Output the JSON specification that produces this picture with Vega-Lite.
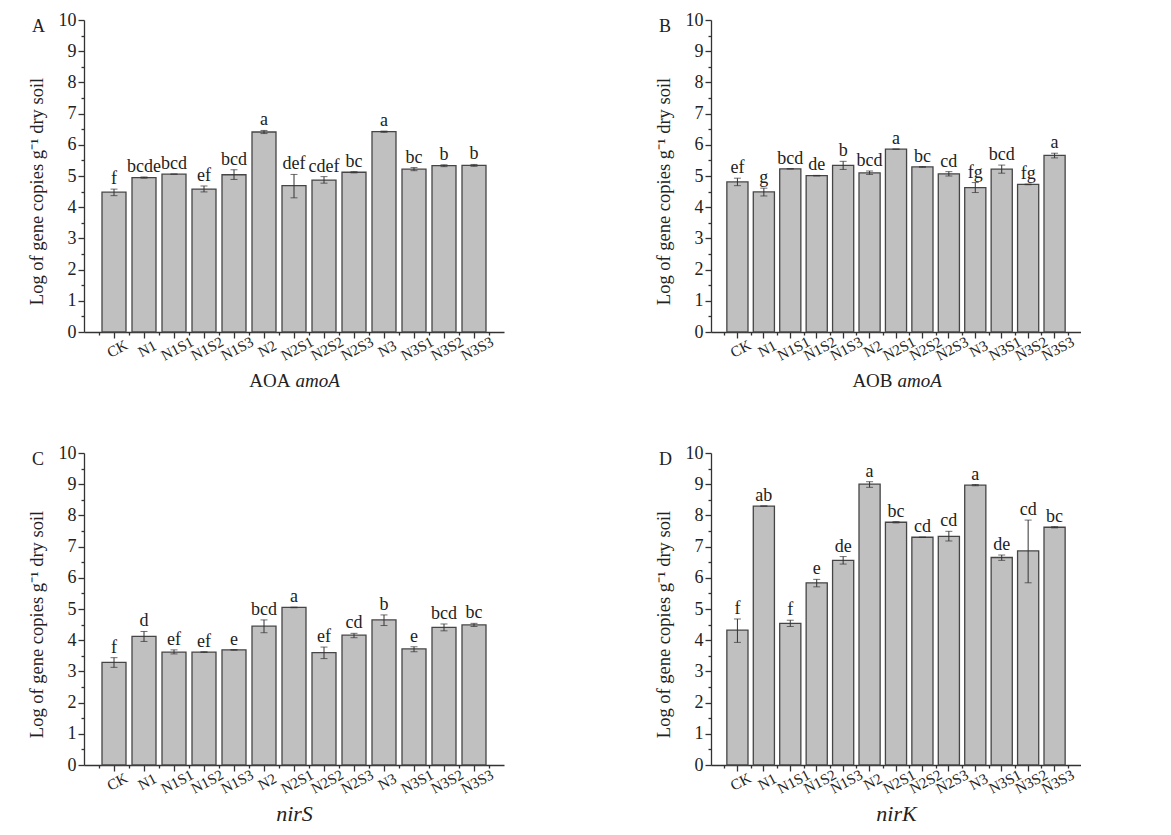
{
  "$schema": "https://vega.github.io/schema/vega-lite/v6.json",
  "padding": {"left": 27, "top": 11, "right": 0, "bottom": 0},
  "background": "white",
  "datasets": {
    "A": [
      {"g": "CK", "mean": 4.48, "lo": 4.37, "hi": 4.58, "sig": "f"},
      {"g": "N1", "mean": 4.95, "lo": 4.93, "hi": 4.97, "sig": "bcde"},
      {"g": "N1S1", "mean": 5.06, "lo": 5.06, "hi": 5.06, "sig": "bcd"},
      {"g": "N1S2", "mean": 4.58, "lo": 4.49, "hi": 4.68, "sig": "ef"},
      {"g": "N1S3", "mean": 5.04, "lo": 4.89, "hi": 5.2, "sig": "bcd"},
      {"g": "N2", "mean": 6.41, "lo": 6.36, "hi": 6.46, "sig": "a"},
      {"g": "N2S1", "mean": 4.69, "lo": 4.3, "hi": 5.05, "sig": "def"},
      {"g": "N2S2", "mean": 4.87, "lo": 4.77, "hi": 4.98, "sig": "cdef"},
      {"g": "N2S3", "mean": 5.12, "lo": 5.1, "hi": 5.14, "sig": "bc"},
      {"g": "N3", "mean": 6.42, "lo": 6.4, "hi": 6.44, "sig": "a"},
      {"g": "N3S1", "mean": 5.22, "lo": 5.17, "hi": 5.27, "sig": "bc"},
      {"g": "N3S2", "mean": 5.33, "lo": 5.3, "hi": 5.36, "sig": "b"},
      {"g": "N3S3", "mean": 5.34, "lo": 5.31, "hi": 5.37, "sig": "b"}
    ],
    "B": [
      {"g": "CK", "mean": 4.81, "lo": 4.69, "hi": 4.93, "sig": "ef"},
      {"g": "N1", "mean": 4.49, "lo": 4.36, "hi": 4.61, "sig": "g"},
      {"g": "N1S1", "mean": 5.23, "lo": 5.23, "hi": 5.23, "sig": "bcd"},
      {"g": "N1S2", "mean": 5.01, "lo": 5.0, "hi": 5.02, "sig": "de"},
      {"g": "N1S3", "mean": 5.34, "lo": 5.21, "hi": 5.47, "sig": "b"},
      {"g": "N2", "mean": 5.1, "lo": 5.05, "hi": 5.16, "sig": "bcd"},
      {"g": "N2S1", "mean": 5.86, "lo": 5.86, "hi": 5.86, "sig": "a"},
      {"g": "N2S2", "mean": 5.29, "lo": 5.28, "hi": 5.3, "sig": "bc"},
      {"g": "N2S3", "mean": 5.07, "lo": 5.0, "hi": 5.14, "sig": "cd"},
      {"g": "N3", "mean": 4.63, "lo": 4.47, "hi": 4.79, "sig": "fg"},
      {"g": "N3S1", "mean": 5.22, "lo": 5.09, "hi": 5.35, "sig": "bcd"},
      {"g": "N3S2", "mean": 4.73, "lo": 4.72, "hi": 4.74, "sig": "fg"},
      {"g": "N3S3", "mean": 5.66, "lo": 5.58, "hi": 5.73, "sig": "a"}
    ],
    "C": [
      {"g": "CK", "mean": 3.29, "lo": 3.13, "hi": 3.44, "sig": "f"},
      {"g": "N1", "mean": 4.12, "lo": 3.96, "hi": 4.28, "sig": "d"},
      {"g": "N1S1", "mean": 3.62, "lo": 3.56, "hi": 3.69, "sig": "ef"},
      {"g": "N1S2", "mean": 3.62, "lo": 3.61, "hi": 3.63, "sig": "ef"},
      {"g": "N1S3", "mean": 3.69, "lo": 3.68, "hi": 3.7, "sig": "e"},
      {"g": "N2", "mean": 4.45, "lo": 4.24, "hi": 4.65, "sig": "bcd"},
      {"g": "N2S1", "mean": 5.05, "lo": 5.04, "hi": 5.06, "sig": "a"},
      {"g": "N2S2", "mean": 3.6, "lo": 3.41, "hi": 3.78, "sig": "ef"},
      {"g": "N2S3", "mean": 4.16, "lo": 4.08, "hi": 4.22, "sig": "cd"},
      {"g": "N3", "mean": 4.65, "lo": 4.47, "hi": 4.81, "sig": "b"},
      {"g": "N3S1", "mean": 3.72, "lo": 3.63, "hi": 3.79, "sig": "e"},
      {"g": "N3S2", "mean": 4.41, "lo": 4.3, "hi": 4.52, "sig": "bcd"},
      {"g": "N3S3", "mean": 4.49, "lo": 4.44, "hi": 4.54, "sig": "bc"}
    ],
    "D": [
      {"g": "CK", "mean": 4.32, "lo": 3.93, "hi": 4.68, "sig": "f"},
      {"g": "N1", "mean": 8.3, "lo": 8.3, "hi": 8.3, "sig": "ab"},
      {"g": "N1S1", "mean": 4.54, "lo": 4.44, "hi": 4.64, "sig": "f"},
      {"g": "N1S2", "mean": 5.84, "lo": 5.71, "hi": 5.95, "sig": "e"},
      {"g": "N1S3", "mean": 6.56, "lo": 6.44, "hi": 6.68, "sig": "de"},
      {"g": "N2", "mean": 9.0, "lo": 8.9, "hi": 9.08, "sig": "a"},
      {"g": "N2S1", "mean": 7.78, "lo": 7.76, "hi": 7.8, "sig": "bc"},
      {"g": "N2S2", "mean": 7.3, "lo": 7.3, "hi": 7.3, "sig": "cd"},
      {"g": "N2S3", "mean": 7.33, "lo": 7.18, "hi": 7.49, "sig": "cd"},
      {"g": "N3", "mean": 8.97, "lo": 8.95, "hi": 8.99, "sig": "a"},
      {"g": "N3S1", "mean": 6.65, "lo": 6.56, "hi": 6.73, "sig": "de"},
      {"g": "N3S2", "mean": 6.86, "lo": 5.84, "hi": 7.85, "sig": "cd"},
      {"g": "N3S3", "mean": 7.62, "lo": 7.6, "hi": 7.64, "sig": "bc"}
    ]
  },
  "vconcat": [
    {
      "hconcat": [
        {
          "width": 420, "height": 312,
          "data": {"name": "A"},
          "title": {"text": "A", "anchor": "start", "frame": "group", "dx": -52, "dy": 29},
          "layer": [
            {
              "mark": {"type": "bar", "fill": "#c0c0c0", "stroke": "#454545", "strokeWidth": 1.3, "width": {"band": 0.8}},
              "encoding": {
                "x": {"field": "g", "type": "nominal", "sort": null, "scale": {"paddingInner": 0, "paddingOuter": 0.5},
                  "axis": {"orient": "bottom", "title": "AOA", "titleAlign": "right", "titleX": 206, "titleY": 48, "titleBaseline": "middle", "titleFontSize": 19, "labelAngle": -28, "labelAlign": "center", "labelBaseline": "top", "labelFontSize": 15, "labelPadding": 4, "tickSize": 6}},
                "y": {"field": "mean", "type": "quantitative", "scale": {"domain": [0, 10], "nice": false},
                  "axis": {"orient": "left", "title": "Log of gene copies g⁻¹ dry soil", "titleFontSize": 18.5, "titlePadding": 12, "titleY": 171, "labelFontSize": 18, "values": [0, 1, 2, 3, 4, 5, 6, 7, 8, 9, 10], "tickSize": 6}}
              }
            },
            {
              "mark": {"type": "errorbar", "ticks": {"size": 7}, "color": "#333333"},
              "encoding": {
                "x": {"field": "g", "type": "nominal", "sort": null, "axis": null},
                "y": {"field": "lo", "type": "quantitative", "axis": null},
                "y2": {"field": "hi"}
              }
            },
            {
              "mark": {"type": "text", "baseline": "alphabetic", "dy": -5, "fontSize": 18, "color": "#222222"},
              "encoding": {
                "x": {"field": "g", "type": "nominal", "sort": null,
                  "axis": {"orient": "bottom", "tickBand": "extent", "tickSize": 3, "labels": false, "domain": false, "title": "amoA", "titleFontStyle": "italic", "titleAlign": "left", "titleX": 211, "titleY": 48, "titleBaseline": "middle", "titleFontSize": 19}},
                "y": {"field": "hi", "type": "quantitative", "axis": {"orient": "left", "values": [0.5, 1.5, 2.5, 3.5, 4.5, 5.5, 6.5, 7.5, 8.5, 9.5], "tickSize": 3, "labels": false, "domain": false, "title": null}},
                "text": {"field": "sig"}
              }
            }
          ],
          "resolve": {"axis": {"x": "independent", "y": "independent"}}
        },
        {
          "width": 370, "height": 312,
          "data": {"name": "B"},
          "title": {"text": "B", "anchor": "start", "frame": "group", "dx": -52, "dy": 29},
          "layer": [
            {
              "mark": {"type": "bar", "fill": "#c0c0c0", "stroke": "#454545", "strokeWidth": 1.3, "width": {"band": 0.8}},
              "encoding": {
                "x": {"field": "g", "type": "nominal", "sort": null, "scale": {"paddingInner": 0, "paddingOuter": 0.5},
                  "axis": {"orient": "bottom", "title": "AOB", "titleAlign": "right", "titleX": 181, "titleY": 48, "titleBaseline": "middle", "titleFontSize": 19, "labelAngle": -28, "labelAlign": "center", "labelBaseline": "top", "labelFontSize": 15, "labelPadding": 4, "tickSize": 6}},
                "y": {"field": "mean", "type": "quantitative", "scale": {"domain": [0, 10], "nice": false},
                  "axis": {"orient": "left", "title": "Log of gene copies g⁻¹ dry soil", "titleFontSize": 18.5, "titlePadding": 12, "titleY": 171, "labelFontSize": 18, "values": [0, 1, 2, 3, 4, 5, 6, 7, 8, 9, 10], "tickSize": 6}}
              }
            },
            {
              "mark": {"type": "errorbar", "ticks": {"size": 7}, "color": "#333333"},
              "encoding": {
                "x": {"field": "g", "type": "nominal", "sort": null, "axis": null},
                "y": {"field": "lo", "type": "quantitative", "axis": null},
                "y2": {"field": "hi"}
              }
            },
            {
              "mark": {"type": "text", "baseline": "alphabetic", "dy": -5, "fontSize": 18, "color": "#222222"},
              "encoding": {
                "x": {"field": "g", "type": "nominal", "sort": null,
                  "axis": {"orient": "bottom", "tickBand": "extent", "tickSize": 3, "labels": false, "domain": false, "title": "amoA", "titleFontStyle": "italic", "titleAlign": "left", "titleX": 186, "titleY": 48, "titleBaseline": "middle", "titleFontSize": 19}},
                "y": {"field": "hi", "type": "quantitative", "axis": {"orient": "left", "values": [0.5, 1.5, 2.5, 3.5, 4.5, 5.5, 6.5, 7.5, 8.5, 9.5], "tickSize": 3, "labels": false, "domain": false, "title": null}},
                "text": {"field": "sig"}
              }
            }
          ],
          "resolve": {"axis": {"x": "independent", "y": "independent"}}
        }
      ],
      "spacing": 150
    },
    {
      "hconcat": [
        {
          "width": 420, "height": 312,
          "data": {"name": "C"},
          "title": {"text": "C", "anchor": "start", "frame": "group", "dx": -52, "dy": 29},
          "layer": [
            {
              "mark": {"type": "bar", "fill": "#c0c0c0", "stroke": "#454545", "strokeWidth": 1.3, "width": {"band": 0.8}},
              "encoding": {
                "x": {"field": "g", "type": "nominal", "sort": null, "scale": {"paddingInner": 0, "paddingOuter": 0.5},
                  "axis": {"orient": "bottom", "title": "nirS", "titleFontStyle": "italic", "titleY": 48, "titleBaseline": "middle", "titleFontSize": 22, "labelAngle": -28, "labelAlign": "center", "labelBaseline": "top", "labelFontSize": 15, "labelPadding": 4, "tickSize": 6}},
                "y": {"field": "mean", "type": "quantitative", "scale": {"domain": [0, 10], "nice": false},
                  "axis": {"orient": "left", "title": "Log of gene copies g⁻¹ dry soil", "titleFontSize": 18.5, "titlePadding": 12, "titleY": 171, "labelFontSize": 18, "values": [0, 1, 2, 3, 4, 5, 6, 7, 8, 9, 10], "tickSize": 6}}
              }
            },
            {
              "mark": {"type": "errorbar", "ticks": {"size": 7}, "color": "#333333"},
              "encoding": {
                "x": {"field": "g", "type": "nominal", "sort": null, "axis": null},
                "y": {"field": "lo", "type": "quantitative", "axis": null},
                "y2": {"field": "hi"}
              }
            },
            {
              "mark": {"type": "text", "baseline": "alphabetic", "dy": -5, "fontSize": 18, "color": "#222222"},
              "encoding": {
                "x": {"field": "g", "type": "nominal", "sort": null,
                  "axis": {"orient": "bottom", "tickBand": "extent", "tickSize": 3, "labels": false, "domain": false, "title": null}},
                "y": {"field": "hi", "type": "quantitative", "axis": {"orient": "left", "values": [0.5, 1.5, 2.5, 3.5, 4.5, 5.5, 6.5, 7.5, 8.5, 9.5], "tickSize": 3, "labels": false, "domain": false, "title": null}},
                "text": {"field": "sig"}
              }
            }
          ],
          "resolve": {"axis": {"x": "independent", "y": "independent"}}
        },
        {
          "width": 370, "height": 312,
          "data": {"name": "D"},
          "title": {"text": "D", "anchor": "start", "frame": "group", "dx": -52, "dy": 29},
          "layer": [
            {
              "mark": {"type": "bar", "fill": "#c0c0c0", "stroke": "#454545", "strokeWidth": 1.3, "width": {"band": 0.8}},
              "encoding": {
                "x": {"field": "g", "type": "nominal", "sort": null, "scale": {"paddingInner": 0, "paddingOuter": 0.5},
                  "axis": {"orient": "bottom", "title": "nirK", "titleFontStyle": "italic", "titleY": 48, "titleBaseline": "middle", "titleFontSize": 22, "labelAngle": -28, "labelAlign": "center", "labelBaseline": "top", "labelFontSize": 15, "labelPadding": 4, "tickSize": 6}},
                "y": {"field": "mean", "type": "quantitative", "scale": {"domain": [0, 10], "nice": false},
                  "axis": {"orient": "left", "title": "Log of gene copies g⁻¹ dry soil", "titleFontSize": 18.5, "titlePadding": 12, "titleY": 171, "labelFontSize": 18, "values": [0, 1, 2, 3, 4, 5, 6, 7, 8, 9, 10], "tickSize": 6}}
              }
            },
            {
              "mark": {"type": "errorbar", "ticks": {"size": 7}, "color": "#333333"},
              "encoding": {
                "x": {"field": "g", "type": "nominal", "sort": null, "axis": null},
                "y": {"field": "lo", "type": "quantitative", "axis": null},
                "y2": {"field": "hi"}
              }
            },
            {
              "mark": {"type": "text", "baseline": "alphabetic", "dy": -5, "fontSize": 18, "color": "#222222"},
              "encoding": {
                "x": {"field": "g", "type": "nominal", "sort": null,
                  "axis": {"orient": "bottom", "tickBand": "extent", "tickSize": 3, "labels": false, "domain": false, "title": null}},
                "y": {"field": "hi", "type": "quantitative", "axis": {"orient": "left", "values": [0.5, 1.5, 2.5, 3.5, 4.5, 5.5, 6.5, 7.5, 8.5, 9.5], "tickSize": 3, "labels": false, "domain": false, "title": null}},
                "text": {"field": "sig"}
              }
            }
          ],
          "resolve": {"axis": {"x": "independent", "y": "independent"}}
        }
      ],
      "spacing": 150
    }
  ],
  "spacing": 54,
  "config": {
    "font": "Liberation Serif",
    "view": {"stroke": null},
    "axis": {"grid": false, "domainColor": "#333333", "tickColor": "#333333", "domainWidth": 1.3, "tickWidth": 1.3, "labelColor": "#222222", "titleColor": "#222222", "labelFont": "Liberation Serif", "titleFont": "Liberation Serif", "titleFontWeight": "normal"},
    "title": {"font": "Liberation Serif", "fontWeight": "normal", "fontSize": 18, "color": "#222222"}
  }
}
